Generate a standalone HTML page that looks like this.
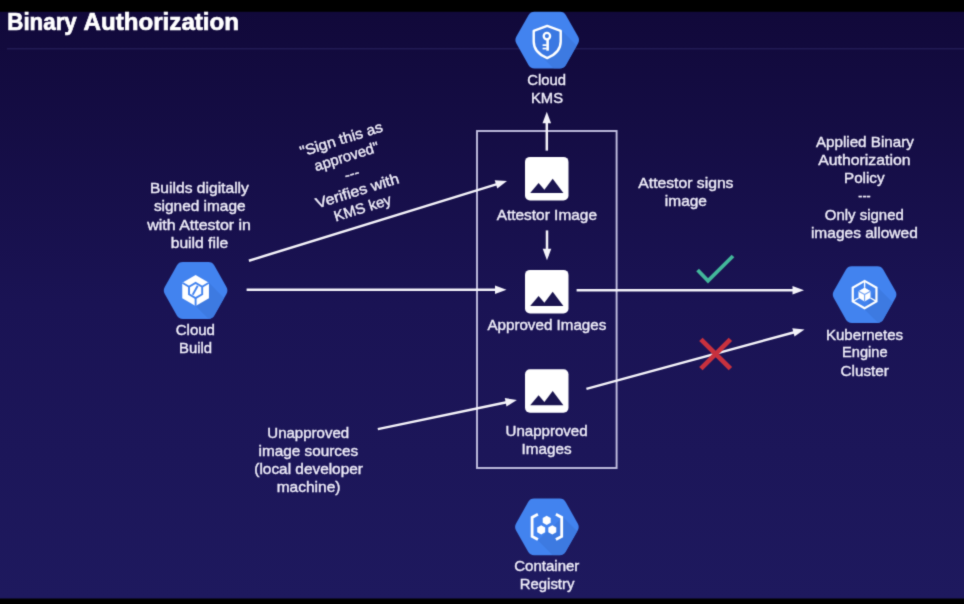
<!DOCTYPE html>
<html lang="en">
<head>
<meta charset="utf-8">
<title>Binary Authorization</title>
<style>
html,body{margin:0;padding:0;background:#000;}
body{width:964px;height:604px;overflow:hidden;position:relative;}
svg{position:absolute;left:0;top:0;display:block;}
text{font-family:"Liberation Sans",Arial,sans-serif;font-size:14.8px;fill:#eeecf8;stroke:#eeecf8;stroke-width:0.4px;}
.title{font-weight:bold;font-size:24.5px;fill:#ffffff;stroke:#ffffff;stroke-width:0.7px;}
</style>
</head>
<body>
<svg width="964" height="604" viewBox="0 0 964 604">
<defs>
<linearGradient id="bg" x1="0" y1="0" x2="0" y2="1">
<stop offset="0" stop-color="#11093a"/>
<stop offset="0.5" stop-color="#1a1354"/>
<stop offset="1" stop-color="#1e195e"/>
</linearGradient>
<clipPath id="hexclip"><path d="M30.84,-3.48 Q32.80,0.00 30.84,3.48 L18.76,24.92 Q16.80,28.40 12.80,28.40 L-12.80,28.40 Q-16.80,28.40 -18.76,24.92 L-30.84,3.48 Q-32.80,0.00 -30.84,-3.48 L-18.76,-24.92 Q-16.80,-28.40 -12.80,-28.40 L12.80,-28.40 Q16.80,-28.40 18.76,-24.92 Z"/></clipPath>
<g id="hex">
<path d="M30.84,-3.48 Q32.80,0.00 30.84,3.48 L18.76,24.92 Q16.80,28.40 12.80,28.40 L-12.80,28.40 Q-16.80,28.40 -18.76,24.92 L-30.84,3.48 Q-32.80,0.00 -30.84,-3.48 L-18.76,-24.92 Q-16.80,-28.40 -12.80,-28.40 L12.80,-28.40 Q16.80,-28.40 18.76,-24.92 Z" fill="#4283ef"/>
</g>
<filter id="soft" x="0" y="0" width="100%" height="100%" filterUnits="userSpaceOnUse" color-interpolation-filters="sRGB"><feConvolveMatrix order="3" kernelMatrix="1 5 1 5 25 5 1 5 1" edgeMode="duplicate" preserveAlpha="true"/></filter>
</defs>
<g filter="url(#soft)">
<rect x="-5" y="-5" width="974" height="614" fill="#000"/>
<rect x="0" y="11.8" width="964" height="586.7" fill="url(#bg)"/>
<rect x="7" y="48" width="957" height="1.5" fill="#27225c" opacity="0.75"/>

<text class="title" y="30"><tspan x="7.3" textLength="69.5" lengthAdjust="spacingAndGlyphs">Binary</tspan> <tspan x="83.6" textLength="155.4" lengthAdjust="spacingAndGlyphs">Authorization</tspan></text>
<rect x="477" y="131" width="139.6" height="337" fill="none" stroke="#c2bfe0" stroke-width="1.9"/>
<line x1="546.8" y1="150.6" x2="546.8" y2="122.3" stroke="#f4f3fa" stroke-width="2.5"/><polygon points="546.8,111.8 551.1,123.3 542.5,123.3" fill="#f4f3fa"/>
<line x1="547.0" y1="230.4" x2="547.0" y2="249.8" stroke="#f4f3fa" stroke-width="2.5"/><polygon points="547.0,260.3 542.7,248.8 551.3,248.8" fill="#f4f3fa"/>
<line x1="248.9" y1="260.7" x2="497.0" y2="184.1" stroke="#f4f3fa" stroke-width="2.5"/><polygon points="507.0,181.0 497.3,188.5 494.7,180.3" fill="#f4f3fa"/>
<line x1="246.6" y1="289.8" x2="496.0" y2="289.8" stroke="#f4f3fa" stroke-width="2.5"/><polygon points="506.5,289.8 495.0,294.1 495.0,285.5" fill="#f4f3fa"/>
<line x1="377.8" y1="429.1" x2="506.6" y2="402.2" stroke="#f4f3fa" stroke-width="2.5"/><polygon points="516.9,400.0 506.5,406.6 504.8,398.1" fill="#f4f3fa"/>
<line x1="576.6" y1="290.2" x2="793.5" y2="290.2" stroke="#f4f3fa" stroke-width="2.5"/><polygon points="804.0,290.2 792.5,294.5 792.5,285.9" fill="#f4f3fa"/>
<line x1="586.4" y1="388.9" x2="794.4" y2="332.2" stroke="#f4f3fa" stroke-width="2.5"/><polygon points="804.5,329.4 794.5,336.6 792.3,328.3" fill="#f4f3fa"/>
<rect x="525.0" y="156.9" width="43.5" height="43.5" rx="5" fill="#ffffff"/><polygon points="530.2,193.0 538.6,183.0 544.4,189.8 552.7,178.8 563.4,193.0" fill="#1b1550"/>
<rect x="525.0" y="269.9" width="43.5" height="43.5" rx="5" fill="#ffffff"/><polygon points="530.2,305.9 538.6,295.9 544.4,302.7 552.7,291.7 563.4,305.9" fill="#1b1550"/>
<rect x="525.0" y="369.2" width="43.5" height="43.5" rx="5" fill="#ffffff"/><polygon points="530.2,405.3 538.6,395.3 544.4,402.1 552.7,391.1 563.4,405.3" fill="#1b1550"/>
<g transform="translate(547.2,40.1)"><use href="#hex"/><g clip-path="url(#hexclip)"><polygon points="14,-10 74,50 54,76 -6,16" fill="#3d7ae1" clip-path="url(#hexclip)"/></g><path d="M0,-14.2 L13.5,-9.3 L13.5,1.5 C13.5,9.5 7.5,15 0,18 C-7.5,15 -13.5,9.5 -13.5,1.5 L-13.5,-9.3 Z" fill="#3b78e2" stroke="#ffffff" stroke-width="2.4" stroke-linejoin="round"/><circle cx="-0.3" cy="-4" r="3.2" fill="none" stroke="#ffffff" stroke-width="2.3"/><rect x="-0.9" y="-0.6" width="2.6" height="11.2" fill="#ffffff"/><rect x="-4.6" y="4.2" width="4" height="1.7" fill="#ffffff"/><rect x="-4.6" y="7.6" width="4" height="1.7" fill="#ffffff"/></g>
<g transform="translate(195.6,290.5)"><use href="#hex"/><g clip-path="url(#hexclip)"><polygon points="13.3,-7.7 73.3,52.3 60,75.4 0,15.4" fill="#3d7ae1" clip-path="url(#hexclip)"/></g><polygon points="0.00,15.40 -13.34,7.70 -13.34,-7.70 -0.00,-15.40 13.34,-7.70 13.34,7.70" fill="#ffffff"/><polygon points="0.00,7.60 -6.58,3.80 -6.58,-3.80 -0.00,-7.60 6.58,-3.80 6.58,3.80" fill="none" stroke="#4283ef" stroke-width="1.9"/><line x1="2.1" y1="-4.8" x2="-2.9" y2="4.2" stroke="#4283ef" stroke-width="1.9"/><line x1="0.00" y1="7.60" x2="0.00" y2="15.40" stroke="#4283ef" stroke-width="1.9"/><line x1="-6.58" y1="-3.80" x2="-13.34" y2="-7.70" stroke="#4283ef" stroke-width="1.9"/><line x1="6.58" y1="-3.80" x2="13.34" y2="-7.70" stroke="#4283ef" stroke-width="1.9"/></g>
<g transform="translate(864.6,294.6)"><use href="#hex"/><g clip-path="url(#hexclip)"><polygon points="12.8,-7.4 72.8,52.6 60,74.8 0,14.8" fill="#3d7ae1" clip-path="url(#hexclip)"/></g><polygon points="0.00,13.70 -11.86,6.85 -11.86,-6.85 -0.00,-13.70 11.86,-6.85 11.86,6.85" fill="none" stroke="#ffffff" stroke-width="2.2" stroke-linejoin="miter"/><polygon points="0.00,6.80 -5.89,3.40 -5.89,-3.40 -0.00,-6.80 5.89,-3.40 5.89,3.40" fill="#ffffff"/><polygon points="0,0 -5.89,3.40 -5.89,-3.40 -0.00,-6.80 5.89,-3.40" fill="#ffffff"/><path d="M0,0 L-5.89,-3.40 M0,0 L5.89,-3.40 M0,0 L0,6.80" stroke="#6f9ff2" stroke-width="1.1" fill="none"/><line x1="-0.00" y1="-6.80" x2="-0.00" y2="-13.70" stroke="#ffffff" stroke-width="1.4"/><line x1="-5.89" y1="3.40" x2="-11.86" y2="6.85" stroke="#ffffff" stroke-width="1.4"/><line x1="5.89" y1="3.40" x2="11.86" y2="6.85" stroke="#ffffff" stroke-width="1.4"/></g>
<g transform="translate(546.9,526.9)"><use href="#hex"/><g clip-path="url(#hexclip)"><polygon points="16,-10 76,50 51,73.5 -9,13.5" fill="#3d7ae1" clip-path="url(#hexclip)"/></g><polyline points="-9,-12.6 -14.8,-9.5 -14.8,9.5 -9,12.6" fill="none" stroke="#ffffff" stroke-width="2.8"/><polyline points="9,-12.6 14.8,-9.5 14.8,9.5 9,12.6" fill="none" stroke="#ffffff" stroke-width="2.8"/><polygon points="-0.20,-1.90 -4.18,-4.20 -4.18,-8.80 -0.20,-11.10 3.78,-8.80 3.78,-4.20" fill="#ffffff"/><polygon points="-5.70,7.60 -9.68,5.30 -9.68,0.70 -5.70,-1.60 -1.72,0.70 -1.72,5.30" fill="#ffffff"/><polygon points="5.40,7.60 1.42,5.30 1.42,0.70 5.40,-1.60 9.38,0.70 9.38,5.30" fill="#ffffff"/></g>
<polyline points="697.6,270.0 708,280.8 733.0,256.0" fill="none" stroke="#43b79b" stroke-width="3.8"/>
<path d="M700.9 339.4 L730.4 368.6 M730.4 339.4 L700.9 368.6" fill="none" stroke="#c8313e" stroke-width="4.8"/>
<text x="527.3" y="85.0" textLength="38.8" lengthAdjust="spacingAndGlyphs">Cloud</text>
<text x="531.0" y="103.0" textLength="32.0" lengthAdjust="spacingAndGlyphs">KMS</text>
<text x="496.7" y="220.1" textLength="100.3" lengthAdjust="spacingAndGlyphs">Attestor Image</text>
<text x="487.4" y="330.1" textLength="118.9" lengthAdjust="spacingAndGlyphs">Approved Images</text>
<text x="505.5" y="435.5" textLength="82.1" lengthAdjust="spacingAndGlyphs">Unapproved</text>
<text x="521.5" y="453.6" textLength="50.1" lengthAdjust="spacingAndGlyphs">Images</text>
<text x="514.2" y="571.0" textLength="65.2" lengthAdjust="spacingAndGlyphs">Container</text>
<text x="519.8" y="588.9" textLength="54.6" lengthAdjust="spacingAndGlyphs">Registry</text>
<text x="825.9" y="339.5" textLength="77.2" lengthAdjust="spacingAndGlyphs">Kubernetes</text>
<text x="842.1" y="357.3" textLength="45.5" lengthAdjust="spacingAndGlyphs">Engine</text>
<text x="840.5" y="375.5" textLength="48.4" lengthAdjust="spacingAndGlyphs">Cluster</text>
<text x="815.9" y="147.3" textLength="97.9" lengthAdjust="spacingAndGlyphs">Applied Binary</text>
<text x="818.2" y="165.4" textLength="92.3" lengthAdjust="spacingAndGlyphs">Authorization</text>
<text x="844.0" y="183.3" textLength="40.6" lengthAdjust="spacingAndGlyphs">Policy</text>
<text x="858.3" y="201.3" textLength="12.3" lengthAdjust="spacingAndGlyphs">---</text>
<text x="824.8" y="219.5" textLength="79.0" lengthAdjust="spacingAndGlyphs">Only signed</text>
<text x="810.9" y="237.6" textLength="106.9" lengthAdjust="spacingAndGlyphs">images allowed</text>
<text x="638.3" y="188.0" textLength="95.2" lengthAdjust="spacingAndGlyphs">Attestor signs</text>
<text x="664.8" y="205.8" textLength="42.2" lengthAdjust="spacingAndGlyphs">image</text>
<text x="149.9" y="193.0" textLength="99.0" lengthAdjust="spacingAndGlyphs">Builds digitally</text>
<text x="153.9" y="211.3" textLength="91.7" lengthAdjust="spacingAndGlyphs">signed image</text>
<text x="147.3" y="229.5" textLength="103.7" lengthAdjust="spacingAndGlyphs">with Attestor in</text>
<text x="170.7" y="247.6" textLength="57.4" lengthAdjust="spacingAndGlyphs">build file</text>
<text x="175.7" y="335.4" textLength="39.3" lengthAdjust="spacingAndGlyphs">Cloud</text>
<text x="179.0" y="353.0" textLength="33.1" lengthAdjust="spacingAndGlyphs">Build</text>
<text x="267.3" y="437.8" textLength="81.9" lengthAdjust="spacingAndGlyphs">Unapproved</text>
<text x="258.6" y="455.8" textLength="99.6" lengthAdjust="spacingAndGlyphs">image sources</text>
<text x="254.3" y="474.0" textLength="108.6" lengthAdjust="spacingAndGlyphs">(local developer</text>
<text x="276.7" y="492.0" textLength="63.8" lengthAdjust="spacingAndGlyphs">machine)</text>
<g transform="translate(351.9,173.6) rotate(-17.3)">
<text x="0.0" y="-31.0" text-anchor="middle" textLength="86" lengthAdjust="spacingAndGlyphs">"Sign this as</text>
<text x="0.0" y="-13.0" text-anchor="middle">approved"</text>
<text x="0.0" y="5.0" text-anchor="middle">---</text>
<text x="0.0" y="23.0" text-anchor="middle" textLength="86.5" lengthAdjust="spacingAndGlyphs">Verifies with</text>
<text x="0.0" y="41.0" text-anchor="middle">KMS key</text>
</g>
</g>
</svg>
</body>
</html>
